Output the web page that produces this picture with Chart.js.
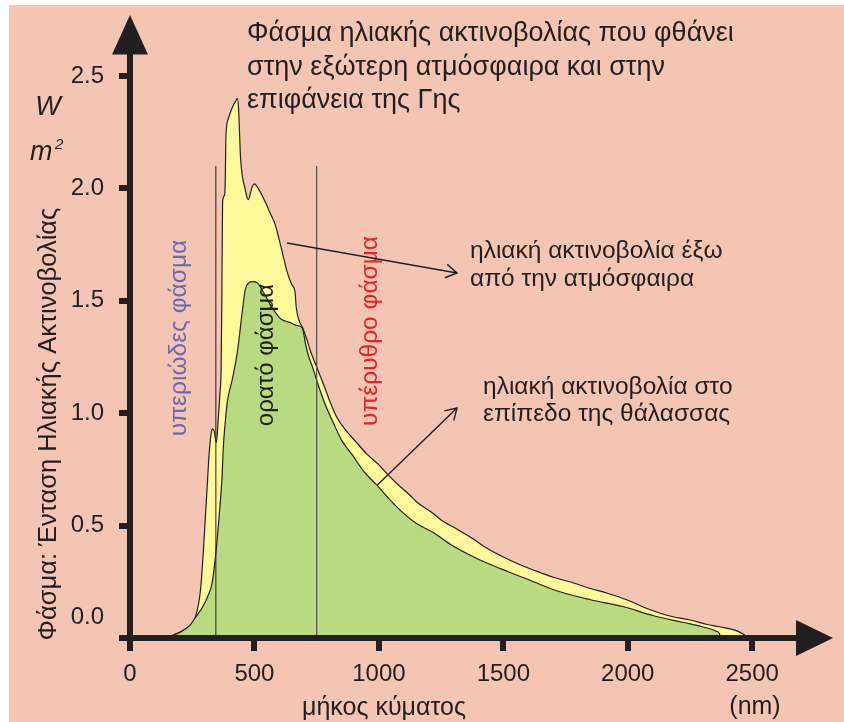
<!DOCTYPE html>
<html>
<head>
<meta charset="utf-8">
<script src="https://cdn.jsdelivr.net/npm/chart.js@4.4.0/dist/chart.umd.min.js"></script>
<style>
  html, body { margin: 0; padding: 0; background: #fff; }
</style>
</head>
<body>
<canvas id="spectrum" width="844" height="722"></canvas>
<script>
const xTicks = [0, 500, 1000, 1500, 2000, 2500];
const yTicks = [0, 0.5, 1.0, 1.5, 2.0, 2.5];

// solar radiation outside the atmosphere (yellow)
const spaceNm = [80, 150, 200, 240, 262, 283, 295, 303, 311, 318, 325, 331, 338, 347, 355, 362, 366, 369, 372, 380,
    383, 385, 395, 411, 425, 431, 436, 440, 444, 452, 462, 470, 476, 484, 492, 500, 515, 530, 543, 563,
    583, 600, 611, 631, 651, 663, 668, 680, 692, 710, 724, 752, 784, 804, 832, 870, 910, 950, 1000, 1033,
    1084, 1125, 1152, 1217, 1250, 1313, 1380, 1433, 1500, 1579, 1650, 1700, 1767, 1850, 1915, 1995, 2080, 2160, 2250, 2320,
    2368, 2430, 2460, 2472, 2476];
const spaceVal = [0, 0.005, 0.025, 0.055, 0.09, 0.21, 0.39, 0.54, 0.69, 0.82, 0.9, 0.93, 0.92, 0.87, 0.98, 1.1, 1.19, 1.5, 1.94, 1.97,
    2.05, 2.22, 2.31, 2.36, 2.39, 2.40, 2.36, 2.25, 2.14, 2.05, 2.0, 1.96, 1.95, 1.98, 2.01, 2.02, 2.0, 1.97, 1.94, 1.89,
    1.84, 1.77, 1.72, 1.63, 1.57, 1.54, 1.47, 1.41, 1.385, 1.33, 1.28, 1.2, 1.11, 1.05, 0.98, 0.92, 0.87, 0.82, 0.77, 0.73,
    0.675, 0.635, 0.605, 0.555, 0.525, 0.485, 0.44, 0.40, 0.36, 0.32, 0.29, 0.27, 0.25, 0.22, 0.20, 0.17, 0.13, 0.10, 0.08, 0.06,
    0.05, 0.035, 0.02, 0.01, 0];

// solar radiation at sea level (green)
const seaNm = [80, 150, 200, 240, 262, 293, 314, 330, 346, 358, 370, 375, 382, 391, 411, 431, 451, 463, 478, 491,
    511, 530, 550, 570, 583, 605, 624, 650, 670, 692, 705, 716, 735, 752, 784, 816, 850, 896, 940, 992,
    1040, 1084, 1150, 1217, 1297, 1400, 1485, 1600, 1714, 1850, 1980, 2100, 2220, 2300, 2356, 2368, 2372];
const seaVal = [0, 0.005, 0.025, 0.055, 0.09, 0.14, 0.19, 0.245, 0.39, 0.54, 0.72, 0.85, 0.95, 1.05, 1.15, 1.27, 1.45, 1.55, 1.58, 1.585,
    1.58, 1.55, 1.51, 1.47, 1.45, 1.42, 1.41, 1.40, 1.39, 1.38, 1.31, 1.26, 1.2, 1.14, 1.04, 0.96, 0.88, 0.81, 0.74, 0.68,
    0.62, 0.57, 0.51, 0.47, 0.41, 0.35, 0.31, 0.26, 0.21, 0.17, 0.14, 0.10, 0.07, 0.05, 0.03, 0.02, 0];

const bandEdges = [345, 750];   // UV | visible | IR
const bandTop = 2.1;

const AX = '#231F20';
const FONT = '"Liberation Sans", Arial, sans-serif';

const pairs = (xs, ys) => xs.map((x, i) => ({ x: x, y: ys[i] }));

const decor = {
    id: 'decor',
    beforeDraw(chart) {
        const ctx = chart.ctx;
        ctx.save();
        ctx.fillStyle = '#ffffff';
        ctx.fillRect(0, 0, chart.width, chart.height);
        ctx.fillStyle = '#F4C5B3';
        ctx.fillRect(9, 5, chart.width - 9, chart.height - 5);
        ctx.restore();
    },
    afterDraw(chart) {
        const ctx = chart.ctx;
        const ca = chart.chartArea;
        const xs = chart.scales.x, ys = chart.scales.y;
        ctx.save();

        // axis arrow heads
        ctx.fillStyle = AX;
        ctx.beginPath();
        ctx.moveTo(ca.left, 15);
        ctx.lineTo(ca.left - 18, ca.top + 1);
        ctx.lineTo(ca.left + 18, ca.top + 1);
        ctx.closePath();
        ctx.fill();
        ctx.beginPath();
        ctx.moveTo(833, ca.bottom);
        ctx.lineTo(ca.right - 1, ca.bottom - 18);
        ctx.lineTo(ca.right - 1, ca.bottom + 18);
        ctx.closePath();
        ctx.fill();

        // 0.0 label sits above the axis in the original
        ctx.font = '24px ' + FONT;
        ctx.textAlign = 'right';
        ctx.textBaseline = 'middle';
        ctx.fillText('0.0', 104, 617);

        // title
        ctx.font = '27px ' + FONT;
        ctx.textAlign = 'left';
        ctx.textBaseline = 'alphabetic';
        ctx.fillText('Φάσμα ηλιακής ακτινοβολίας που φθάνει', 247, 41);
        ctx.fillText('στην εξώτερη ατμόσφαιρα και στην', 247, 74.5);
        ctx.fillText('επιφάνεια της Γης', 247, 108);

        // unit W / m2
        ctx.font = 'italic 27px ' + FONT;
        ctx.textAlign = 'center';
        ctx.fillText('W', 48, 115);
        ctx.textAlign = 'left';
        ctx.fillText('m', 30, 160);
        ctx.font = 'italic 15px ' + FONT;
        ctx.fillText('2', 55, 149);

        // axis titles
        ctx.font = '25px ' + FONT;
        ctx.textAlign = 'center';
        ctx.textBaseline = 'middle';
        ctx.fillText('μήκος κύματος', 384, 708);
        ctx.fillText('(nm)', 755, 707);

        const vtext = (txt, x, y, color, size) => {
            ctx.save();
            ctx.translate(x, y);
            ctx.rotate(-Math.PI / 2);
            ctx.fillStyle = color;
            ctx.font = size + 'px ' + FONT;
            ctx.textAlign = 'center';
            ctx.textBaseline = 'middle';
            ctx.fillText(txt, 0, 0);
            ctx.restore();
        };
        vtext('Φάσμα: Ένταση Ηλιακής Ακτινοβολίας', 49, 424, AX, 25.5);
        vtext('υπεριώδες φάσμα', 179, 338, '#6C69B3', 24.5);
        vtext('ορατό φάσμα', 266, 355, AX, 24);
        vtext('υπέρυθρο φάσμα', 370, 331, '#E3222B', 24.5);

        // annotations
        ctx.fillStyle = AX;
        ctx.font = '24.5px ' + FONT;
        ctx.textAlign = 'left';
        ctx.textBaseline = 'middle';
        ctx.fillText('ηλιακή ακτινοβολία έξω', 470, 251);
        ctx.fillText('από την ατμόσφαιρα', 470, 279);
        ctx.fillText('ηλιακή ακτινοβολία στο', 483, 387);
        ctx.fillText('επίπεδο της θάλασσας', 483, 414);

        const arrow = (x1, y1, x2, y2) => {
            const a = Math.atan2(y2 - y1, x2 - x1);
            const h = 13, s = 0.55;
            ctx.strokeStyle = AX;
            ctx.lineWidth = 1.4;
            ctx.beginPath();
            ctx.moveTo(x1, y1);
            ctx.lineTo(x2, y2);
            ctx.moveTo(x2 - h * Math.cos(a - s), y2 - h * Math.sin(a - s));
            ctx.lineTo(x2, y2);
            ctx.lineTo(x2 - h * Math.cos(a + s), y2 - h * Math.sin(a + s));
            ctx.stroke();
        };
        arrow(xs.getPixelForValue(631), ys.getPixelForValue(1.757), 457, 273);
        arrow(xs.getPixelForValue(993), ys.getPixelForValue(0.68), 457, 408);

        ctx.restore();
    }
};

const axisCommon = {
    type: 'linear',
    border: { display: true, width: 6, color: AX, z: 1 },
    ticks: { color: AX, font: { family: FONT, size: 24 }, autoSkip: false, maxRotation: 0 }
};

new Chart(document.getElementById('spectrum'), {
    type: 'line',
    data: {
        datasets: [
            {
                label: 'όριο υπεριώδους',
                data: [{ x: bandEdges[0], y: 0 }, { x: bandEdges[0], y: bandTop }],
                borderColor: AX, borderWidth: 1, pointRadius: 0, fill: false, order: 0
            },
            {
                label: 'όριο υπερύθρου',
                data: [{ x: bandEdges[1], y: 0 }, { x: bandEdges[1], y: bandTop }],
                borderColor: '#5A5656', borderWidth: 1.3, pointRadius: 0, fill: false, order: 1
            },
            {
                label: 'ηλιακή ακτινοβολία στο επίπεδο της θάλασσας',
                data: pairs(seaNm, seaVal),
                borderColor: AX, borderWidth: 1.2, backgroundColor: '#B9DA80',
                fill: 'origin', pointRadius: 0, cubicInterpolationMode: 'monotone', order: 2
            },
            {
                label: 'ηλιακή ακτινοβολία έξω από την ατμόσφαιρα',
                data: pairs(spaceNm, spaceVal),
                borderColor: AX, borderWidth: 1.2, backgroundColor: '#FFF99C',
                fill: 'origin', pointRadius: 0, cubicInterpolationMode: 'monotone', order: 3
            }
        ]
    },
    options: {
        responsive: false,
        animation: false,
        devicePixelRatio: 1,
        layout: { padding: { left: 0, right: 47, top: 53.5, bottom: 0 } },
        plugins: { legend: { display: false }, tooltip: { enabled: false } },
        scales: {
            x: Object.assign({}, axisCommon, {
                min: 0, max: 2680,
                afterBuildTicks: s => { s.ticks = xTicks.map(v => ({ value: v })); },
                afterFit: s => { s.height = 84; },
                grid: { drawOnChartArea: false, tickLength: 13, tickWidth: 6, lineWidth: 6, color: AX, tickColor: AX },
                ticks: Object.assign({}, axisCommon.ticks, { padding: 9, callback: v => String(v) })
            }),
            y: Object.assign({}, axisCommon, {
                min: 0, max: 2.6,
                afterBuildTicks: s => { s.ticks = yTicks.map(v => ({ value: v })); },
                afterFit: s => { s.width = 130; },
                grid: { drawOnChartArea: false, tickLength: 11, tickWidth: 6, lineWidth: 6, color: AX, tickColor: AX },
                ticks: Object.assign({}, axisCommon.ticks, { padding: 15, callback: v => (v === 0 ? '' : v.toFixed(1)) })
            })
        }
    },
    plugins: [decor]
});
</script>
</body>
</html>
